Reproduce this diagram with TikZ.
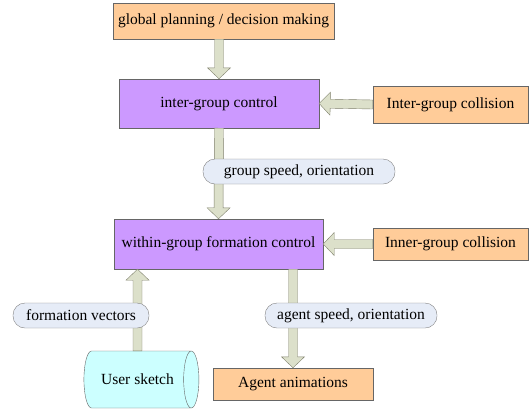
\documentclass[tikz,border=0pt]{standalone}
\usepackage{fontspec}
\setmainfont{Liberation Serif}
\usepackage{tikz}
\usetikzlibrary{calc,shapes.geometric}
\definecolor{boxO}{HTML}{FFCC99}
\definecolor{boxP}{HTML}{CC99FF}
\definecolor{tagF}{HTML}{E6ECF7}
\definecolor{skF}{HTML}{CCFFFF}
\definecolor{arF}{HTML}{DCE0CA}
\definecolor{arD}{HTML}{7F806C}
\tikzset{
  every node/.style={font=\fontsize{15.5}{18}\selectfont,inner sep=0pt},
  inbox/.style={draw=black!60,fill=boxO,minimum width=#1},
  ctrlbox/.style={draw=black!60,fill=boxP,minimum width=#1},
  tagbox/.style={draw=black!50,fill=tagF,rounded corners=12pt,minimum width=#1,minimum height=25pt},
  sketchbox/.style={cylinder,draw=black!60,fill=skF,aspect=1.4,minimum width=57pt,minimum height=115pt}
}
\newcommand{\fatarrow}[2]{%
  \filldraw[fill=arF,draw=arD,line join=miter]
    ($(#1)!4.5pt!90:(#2)$) -- ($($(#2)!11pt!(#1)$)!4.5pt!90:(#2)$)
    -- ($($(#2)!11pt!(#1)$)!11.5pt!90:(#2)$) -- (#2)
    -- ($($(#2)!11pt!(#1)$)!11.5pt!-90:(#2)$) -- ($($(#2)!11pt!(#1)$)!4.5pt!-90:(#2)$)
    -- ($(#1)!4.5pt!-90:(#2)$) -- cycle;
}

\begin{document}
\begin{tikzpicture}[x=1pt,y=-1pt]
\useasboundingbox (0,0) rectangle (529,410);
\node[inbox=221pt,minimum height=36pt] (plan) at (223.5,21) {global planning / decision making};
\node[ctrlbox=200pt,minimum height=49pt] (inter) at (219,103.5) {inter-group control};
\node[inbox=155pt,minimum height=37pt] (intercol) at (450.5,104.5) {Inter-group collision};
\node[ctrlbox=209pt,minimum height=50pt] (within) at (218.5,244) {within-group formation control};
\node[inbox=155pt,minimum height=32pt] (innercol) at (450.5,244) {Inner-group collision};
\node[sketchbox] (sketch) at (137.5,379.5) {User sketch};
\node[inbox=160pt,minimum height=32pt] (agent) at (293,384) {Agent animations};

\fatarrow{plan.south -| inter.north}{inter.north}
\fatarrow{intercol.west}{inter.east}
\fatarrow{inter.south}{within.north}
\fatarrow{innercol.west}{within.east}
\fatarrow{sketch.north}{within.south -| sketch.north}
\fatarrow{within.south -| agent.north}{agent.north}

\node[tagbox=192pt] (gso) at (299,171.5) {group speed, orientation};
\node[tagbox=136pt] (fvec) at (81,315.5) {formation vectors};
\node[tagbox=172pt] (aso) at (351,315.5) {agent speed, orientation};
\end{tikzpicture}
\end{document}
